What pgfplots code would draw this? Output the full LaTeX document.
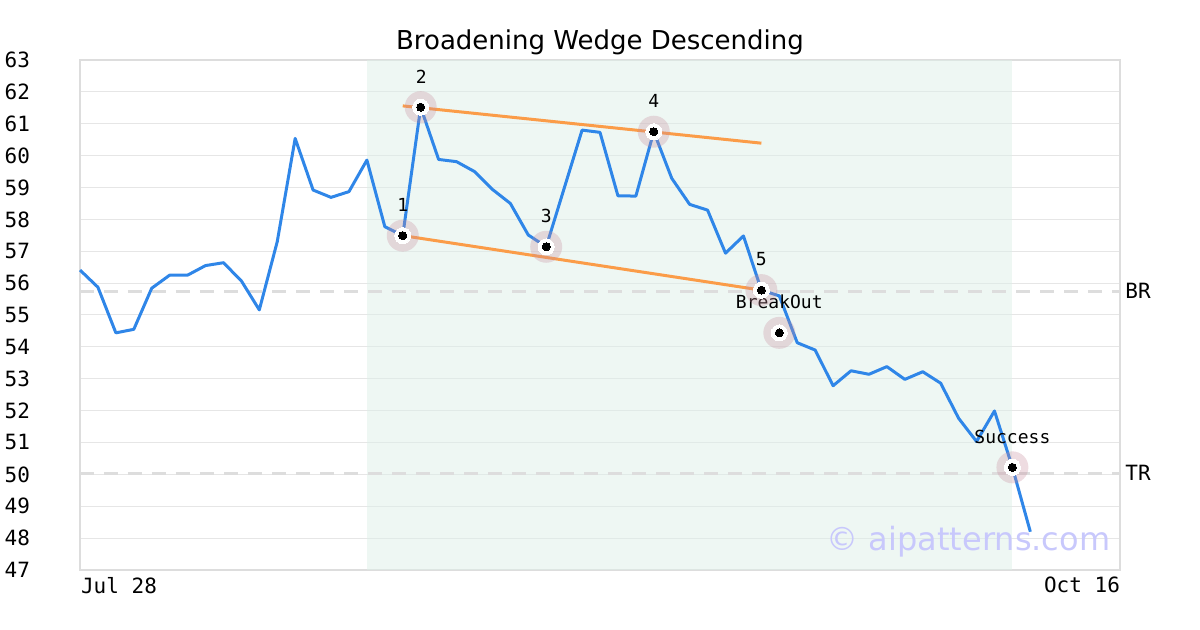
\documentclass[border=0pt]{standalone}
\usepackage{pgfplots}
\usepackage{pgfplotstable}
\pgfplotsset{compat=1.18}
\usepackage{fontspec}
\setmainfont{DejaVu Sans}
\newfontfamily\monofont{DejaVu Sans Mono}
\definecolor{linec}{HTML}{2F86E8}
\definecolor{orangec}{HTML}{FB9C48}
\definecolor{gridc}{HTML}{E6E6E6}
\definecolor{framec}{HTML}{DDDDDD}
\definecolor{shadec}{HTML}{DDEFE8}
\definecolor{ringc}{HTML}{C88C9B}
\definecolor{wmc}{RGB}{200,200,252}

\pgfplotstableread{
x y
0 56.41
1 55.87
2 54.44
3 54.55
4 55.84
5 56.25
6 56.25
7 56.55
8 56.64
9 56.07
10 55.16
11 57.30
12 60.54
13 58.92
14 58.69
15 58.87
16 59.86
17 57.77
18 57.49
19 61.52
20 59.88
21 59.81
22 59.50
23 58.94
24 58.50
25 57.51
26 57.14
27 58.97
28 60.80
29 60.73
30 58.74
31 58.73
32 60.75
33 59.29
34 58.47
35 58.29
36 56.94
37 57.48
38 55.78
39 55.60
40 54.13
41 53.90
42 52.78
43 53.25
44 53.14
45 53.38
46 52.98
47 53.22
48 52.86
49 51.76
50 51.03
51 51.99
52 50.22
53 48.20
}\price

\pgfplotstableread{
x y
18 57.49
19 61.52
26 57.14
32 60.75
38 55.78
39 54.44
52 50.22
}\pts

\begin{document}
\begin{tikzpicture}
\path[use as bounding box] (-40pt,-30pt) rectangle (560pt,285pt);
\begin{axis}[
  at={(0,0)}, anchor=south west,
  scale only axis, width=520pt, height=255pt,
  xmin=0, xmax=58, ymin=47, ymax=63,
  ytick={47,48,...,63},
  xtick={0}, xticklabels={Jul 28},
  extra x ticks={58}, extra x tick labels={Oct 16},
  extra x tick style={grid=none, xticklabel style={anchor=north east, xshift=6.5pt}},
  xticklabel style={anchor=north west, xshift=-3pt},
  ymajorgrids, grid style={color=gridc, line width=0.5pt},
  major tick length=0pt,
  axis line style={color=framec, line width=1pt},
  tick label style={font=\monofont\fontsize{10.5}{12}\selectfont},
  /pgf/number format/assume math mode=true,
  yticklabel style={xshift=-21.5pt},
  title={Broadening Wedge Descending},
  title style={at={(0.5,1)}, anchor=base, yshift=-1pt, font=\fontsize{13}{15}\selectfont},
  clip=false,
]
% shaded pattern region
\addplot[draw=none, fill=shadec, fill opacity=0.5, forget plot] coordinates {(16,47) (52,47) (52,63) (16,63)} -- cycle;
% BR / TR dashed lines
\addplot[color=framec, line width=1.5pt, dash pattern=on 7pt off 5pt] coordinates {(0,55.75) (58,55.75)};
\addplot[color=framec, line width=1.5pt, dash pattern=on 7pt off 5pt] coordinates {(0,50.04) (58,50.04)};
% price line
\addplot[color=linec, line width=1.5pt, line join=round] table[x=x, y=y] {\price};
% wedge lines
\addplot[color=orangec, line width=1.5pt] coordinates {(18,61.56) (38,60.39)};
\addplot[color=orangec, line width=1.5pt] coordinates {(18,57.49) (38,55.78)};
% markers
\addplot[only marks, color=ringc, mark=*, mark size=8pt, mark options={color=ringc, line width=0pt, draw opacity=0, fill opacity=0.3}] table[x=x, y=y] {\pts};
\addplot[only marks, color=white, mark=*, mark size=4pt, mark options={color=white, line width=0pt}] table[x=x, y=y] {\pts};
\addplot[only marks, color=black, mark=*, mark size=2pt, mark options={color=black, line width=0pt}] table[x=x, y=y] {\pts};
% labels
\begin{scope}[every node/.style={font=\monofont\fontsize{9}{11}\selectfont, anchor=center, inner sep=0pt}]
\node at (axis cs:18,58.45) {1};
\node at (axis cs:19.03,62.47) {2};
\node at (axis cs:26,58.11) {3};
\node at (axis cs:32,61.71) {4};
\node at (axis cs:38,56.76) {5};
\node at (axis cs:39,55.41) {BreakOut};
\node at (axis cs:52,51.17) {Success};
\end{scope}
\node[anchor=west, inner sep=0pt, xshift=2.5pt, font=\monofont\fontsize{10.5}{12}\selectfont] at (axis cs:58,55.75) {BR};
\node[anchor=west, inner sep=0pt, xshift=2.5pt, font=\monofont\fontsize{10.5}{12}\selectfont] at (axis cs:58,50.04) {TR};
\node[anchor=center, inner sep=0pt, text=wmc, font=\fontsize{16}{18}\selectfont] at (axis cs:49.55,47.88) {© aipatterns.com};
\end{axis}
\end{tikzpicture}
\end{document}
